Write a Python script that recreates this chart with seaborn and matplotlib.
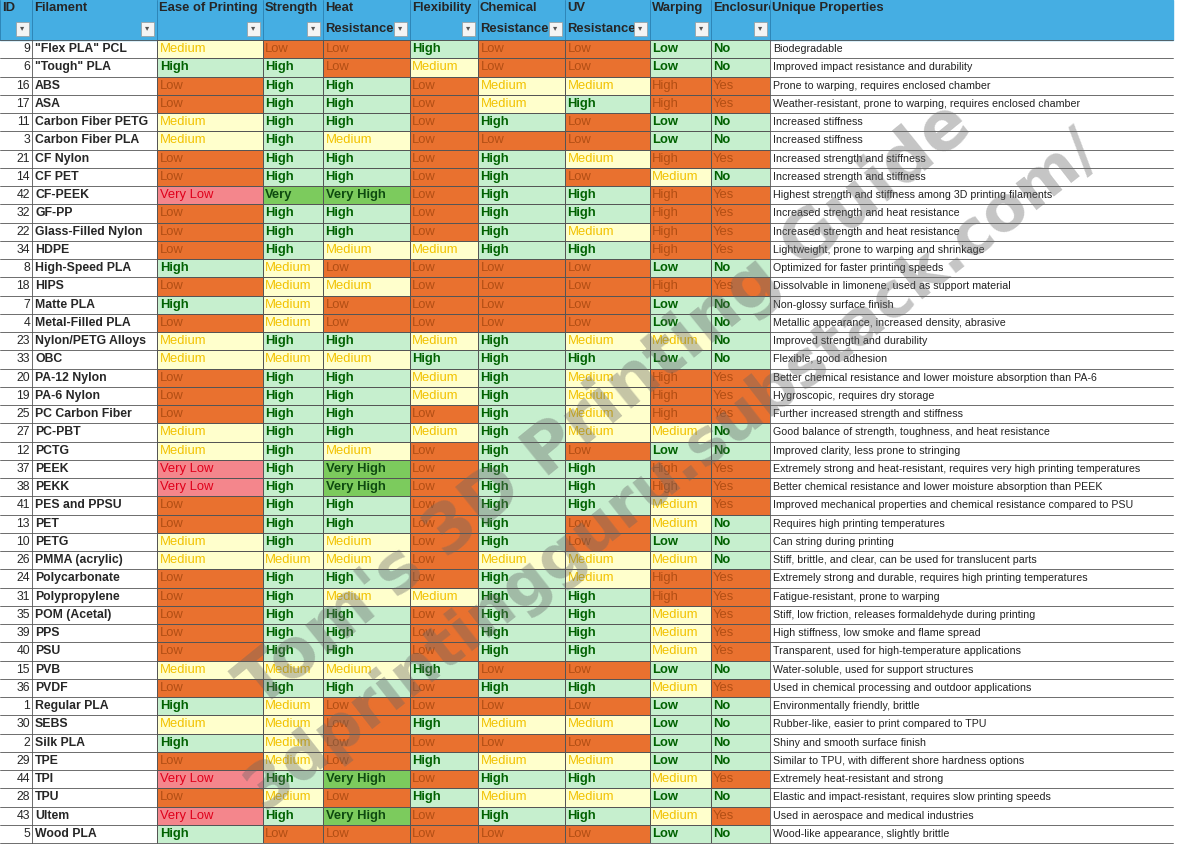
import numpy as np
import pandas as pd
import matplotlib
matplotlib.use('Agg')
import matplotlib.pyplot as plt
from matplotlib.colors import ListedColormap
from matplotlib.patches import Rectangle
from matplotlib.transforms import Bbox
import seaborn as sns

sns.set_style("white")
plt.rcParams['font.family'] = ['Liberation Sans Narrow', 'Liberation Sans', 'DejaVu Sans']

# ---- data ----
ids = [9, 6, 16, 17, 11, 3, 21, 14, 42, 32, 22, 34, 8, 18, 7, 4, 23, 33, 20, 19, 25, 27, 12,
       37, 38, 41, 13, 10, 26, 24, 31, 35, 39, 40, 15, 36, 1, 30, 2, 29, 44, 28, 43, 5]
filaments = ['"Flex PLA" PCL', '"Tough" PLA', 'ABS', 'ASA', 'Carbon Fiber PETG', 'Carbon Fiber PLA',
             'CF Nylon', 'CF PET', 'CF-PEEK', 'GF-PP', 'Glass-Filled Nylon', 'HDPE', 'High-Speed PLA',
             'HIPS', 'Matte PLA', 'Metal-Filled PLA', 'Nylon/PETG Alloys', 'OBC', 'PA-12 Nylon',
             'PA-6 Nylon', 'PC Carbon Fiber', 'PC-PBT', 'PCTG', 'PEEK', 'PEKK', 'PES and PPSU', 'PET',
             'PETG', 'PMMA (acrylic)', 'Polycarbonate', 'Polypropylene', 'POM (Acetal)', 'PPS', 'PSU',
             'PVB', 'PVDF', 'Regular PLA', 'SEBS', 'Silk PLA', 'TPE', 'TPI', 'TPU', 'Ultem', 'Wood PLA']
L, M, H, VL, VH = 'Low', 'Medium', 'High', 'Very Low', 'Very High'
ease = [M, H, L, L, M, M, L, L, VL, L, L, L, H, L, H, L, M, M, L, L, L, M, M,
        VL, VL, L, L, M, M, L, L, L, L, L, M, L, H, M, H, L, VL, L, VL, H]
strength = [L, H, H, H, H, H, H, H, 'Very', H, H, H, M, M, M, M, H, M, H, H, H, H, H,
            H, H, H, H, H, M, H, H, H, H, H, M, H, M, M, M, M, H, M, H, L]
heat = [L, L, H, H, H, M, H, H, VH, H, H, M, L, M, L, L, H, M, H, H, H, H, M,
        VH, VH, H, H, M, M, H, M, H, H, H, M, H, L, L, L, L, VH, L, VH, L]
flex = [H, M, L, L, L, L, L, L, L, L, L, M, L, L, L, L, M, H, M, M, L, M, L,
        L, L, L, L, L, L, L, M, L, L, L, H, L, L, H, L, H, L, H, L, L]
chem = [L, L, M, M, H, L, H, H, H, H, H, H, L, L, L, L, H, H, H, H, H, H, H,
        H, H, H, H, H, M, H, H, H, H, H, L, H, L, M, L, M, H, M, H, L]
uv = [L, L, M, H, L, L, M, L, H, H, M, H, L, L, L, L, M, H, M, M, M, M, L,
      H, H, H, L, L, M, M, H, H, H, H, L, H, L, M, L, M, H, M, H, L]
warping = [L, L, H, H, L, L, H, M, H, H, H, H, L, H, L, L, M, L, H, H, H, M, L,
           H, H, M, M, L, M, H, H, M, M, M, L, M, L, L, L, L, M, L, M, L]
enclosure = ['No', 'No', 'Yes', 'Yes', 'No', 'No', 'Yes', 'No', 'Yes', 'Yes', 'Yes', 'Yes', 'No', 'Yes',
             'No', 'No', 'No', 'No', 'Yes', 'Yes', 'Yes', 'No', 'No', 'Yes', 'Yes', 'Yes', 'No', 'No',
             'No', 'Yes', 'Yes', 'Yes', 'Yes', 'Yes', 'No', 'Yes', 'No', 'No', 'No', 'No', 'Yes', 'No',
             'Yes', 'No']
props = ['Biodegradable', 'Improved impact resistance and durability',
         'Prone to warping, requires enclosed chamber',
         'Weather-resistant, prone to warping, requires enclosed chamber',
         'Increased stiffness', 'Increased stiffness', 'Increased strength and stiffness',
         'Increased strength and stiffness', 'Highest strength and stiffness among 3D printing filaments',
         'Increased strength and heat resistance', 'Increased strength and heat resistance',
         'Lightweight, prone to warping and shrinkage', 'Optimized for faster printing speeds',
         'Dissolvable in limonene, used as support material', 'Non-glossy surface finish',
         'Metallic appearance, increased density, abrasive', 'Improved strength and durability',
         'Flexible, good adhesion',
         'Better chemical resistance and lower moisture absorption than PA-6',
         'Hygroscopic, requires dry storage', 'Further increased strength and stiffness',
         'Good balance of strength, toughness, and heat resistance',
         'Improved clarity, less prone to stringing',
         'Extremely strong and heat-resistant, requires very high printing temperatures',
         'Better chemical resistance and lower moisture absorption than PEEK',
         'Improved mechanical properties and chemical resistance compared to PSU',
         'Requires high printing temperatures', 'Can string during printing',
         'Stiff, brittle, and clear, can be used for translucent parts',
         'Extremely strong and durable, requires high printing temperatures',
         'Fatigue-resistant, prone to warping',
         'Stiff, low friction, releases formaldehyde during printing',
         'High stiffness, low smoke and flame spread',
         'Transparent, used for high-temperature applications',
         'Water-soluble, used for support structures',
         'Used in chemical processing and outdoor applications',
         'Environmentally friendly, brittle', 'Rubber-like, easier to print compared to TPU',
         'Shiny and smooth surface finish', 'Similar to TPU, with different shore hardness options',
         'Extremely heat-resistant and strong', 'Elastic and impact-resistant, requires slow printing speeds',
         'Used in aerospace and medical industries', 'Wood-like appearance, slightly brittle']

rating_cols = [('Ease of Printing', ease, 'up'), ('Strength', strength, 'up'),
               ('Heat\nResistance', heat, 'up'), ('Flexibility', flex, 'up'),
               ('Chemical\nResistance', chem, 'up'), ('UV\nResistance', uv, 'up'),
               ('Warping', warping, 'down'), ('Enclosure', enclosure, 'down')]

# ---- styling ----
W, Hh = 1200, 858
edges = [0, 32, 157, 263, 323, 410, 478, 565, 650, 711, 770, 1173]
top, bottom = 40, 843
n = len(ids)
rh = (bottom - top) / n

bg = ['#E9712F', '#FFFFCC', '#C6EFCE', '#F4868C', '#7CCB5D']
fg = ['#B24E14', '#F2C200', '#006100', '#E0001B', '#0E4A10']
cmap = ListedColormap(bg)
up_map = {L: 0, M: 1, H: 2, VL: 3, VH: 4, 'Very': 4}
down_map = {L: 2, M: 1, H: 0, 'No': 2, 'Yes': 0}
header_c = '#45AEE3'
line_c = '#555555'
fs = 8.8

fig = plt.figure(figsize=(12, 8.58), dpi=100)
base = fig.add_axes([0, 0, 1, 1])
base.set_xlim(0, W)
base.set_ylim(Hh, 0)
base.axis('off')


def px_axes(x0, x1, y0, y1):
    return fig.add_axes([x0 / W, 1 - y1 / Hh, (x1 - x0) / W, (y1 - y0) / Hh])


def clip_to(t, x0, x1, y0, y1):
    # display coords (dpi 100 -> 1 px per unit, origin bottom-left)
    t.set_clip_on(True)
    t.set_clip_box(Bbox([[x0, Hh - y1], [x1, Hh - y0]]))


# header
base.add_patch(Rectangle((0, 0), edges[-1], top, color=header_c, zorder=1))
headers = ['ID', 'Filament'] + [c[0] for c in rating_cols] + ['Unique Properties']
for i, h in enumerate(headers):
    x0, x1 = edges[i], edges[i + 1]
    t = base.text(x0 + 2, 2, h, fontsize=fs + 0.6, fontweight='bold', va='top', ha='left',
                  linespacing=1.95, zorder=3)
    clip_to(t, x0, x1, 0, top)
    if i < len(headers) - 1:
        base.add_patch(Rectangle((x1 - 16, 22), 13, 14, facecolor='#F4F4F4',
                                 edgecolor='#999999', lw=0.5, zorder=3))
        base.text(x1 - 9.5, 29, '▾', fontsize=6, ha='center', va='center', color='#555555', zorder=4)
    base.plot([x0, x0], [0, top], color='#2A7FB0', lw=0.6, zorder=2)

# text columns
for r in range(n):
    y = top + r * rh
    base.text(edges[1] - 2, y + rh / 2, str(ids[r]), fontsize=fs, ha='right', va='center')
    t = base.text(edges[1] + 3, y + rh / 2, filaments[r], fontsize=fs, fontweight='bold',
                  ha='left', va='center')
    clip_to(t, edges[1], edges[2], y, y + rh)
    base.text(edges[10] + 3, y + rh / 2, props[r], fontsize=fs - 1.1, ha='left', va='center',
              color='#222222')
for r in range(n + 1):
    y = top + r * rh
    base.plot([0, edges[-1]], [y, y], color=line_c, lw=0.6, zorder=2)
for x in [edges[1], edges[2], edges[10]]:
    base.plot([x, x], [top, bottom], color=line_c, lw=0.6, zorder=2)

# rating columns as seaborn heatmaps
for j, (name, vals, direction) in enumerate(rating_cols):
    mp = up_map if direction == 'up' else down_map
    codes = np.array([mp[v] for v in vals]).reshape(-1, 1)
    ax = px_axes(edges[j + 2], edges[j + 3], top, bottom)
    sns.heatmap(pd.DataFrame(codes), ax=ax, cmap=cmap, vmin=-0.5, vmax=4.5, cbar=False,
                linewidths=0.6, linecolor=line_c, xticklabels=False, yticklabels=False)
    for r, v in enumerate(vals):
        ax.text(0.03, r + 0.5, v, fontsize=fs + 0.6, ha='left', va='center',
                color=fg[codes[r, 0]], fontweight='bold' if codes[r, 0] in (2, 4) else 'normal',
                clip_on=True)

# watermark
wm = fig.add_axes([0, 0, 1, 1], facecolor='none')
wm.set_xlim(0, W)
wm.set_ylim(Hh, 0)
wm.axis('off')
wm.text(605, 405, "Tom's 3D Printing Guide", fontsize=49, fontweight='bold', color='#666666',
        alpha=0.38, rotation=39, ha='center', va='center', rotation_mode='anchor',
        family='DejaVu Sans')
wm.text(673, 470, "3dprintingguru.substack.com/", fontsize=45, fontweight='bold', color='#666666',
        alpha=0.38, rotation=38, ha='center', va='center', rotation_mode='anchor',
        family='DejaVu Sans')

fig.savefig('out.png', dpi=100)
